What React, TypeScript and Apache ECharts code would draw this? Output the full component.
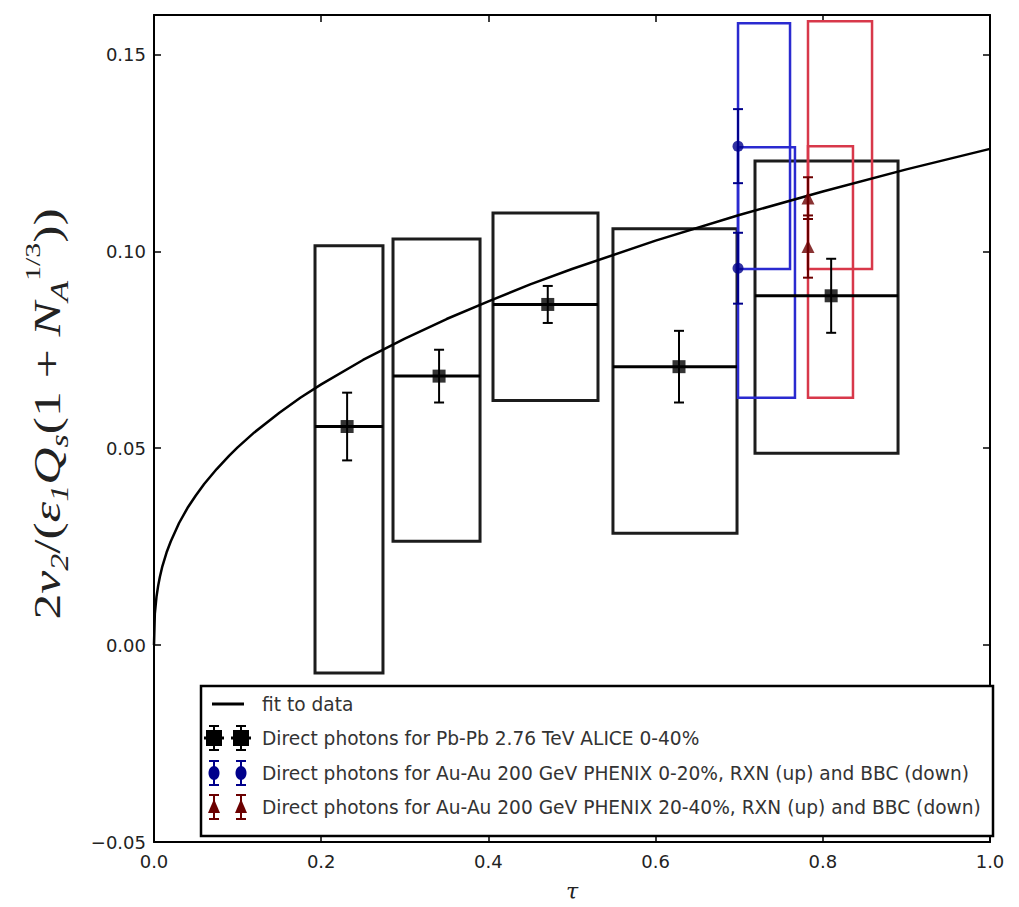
import React, { useEffect, useRef } from 'react';
import * as echarts from 'echarts';

// ---------- data ----------
const xMin = 0;
const xMax = 1.0;
const xStep = 0.2;
const yMin = -0.05;
const yMax = 0.16;
const yStep = 0.05;

// fit curve ("fit to data")
const fitX = [0, 0.001, 0.003, 0.005, 0.007, 0.01, 0.015, 0.02, 0.03, 0.04, 0.05, 0.06, 0.075, 0.09, 0.1, 0.12, 0.15, 0.175, 0.2, 0.25, 0.3, 0.35, 0.4, 0.45, 0.5, 0.6, 0.7, 0.8, 0.9, 1.0];
const fitY = [0, 0.0080, 0.0123, 0.0151, 0.0173, 0.0200, 0.0235, 0.0263, 0.0310, 0.0348, 0.0380, 0.0409, 0.0447, 0.0481, 0.0502, 0.0540, 0.0590, 0.0628, 0.0662, 0.0724, 0.0778, 0.0828, 0.0873, 0.0916, 0.0955, 0.1027, 0.1092, 0.1152, 0.1208, 0.1260];

// ALICE Pb-Pb 2.76 TeV 0-40%
const aliceX = [0.231, 0.341, 0.471, 0.628, 0.810];
const aliceY = [0.0555, 0.0683, 0.0865, 0.0707, 0.0887];
const aliceErr = [0.0086, 0.0067, 0.0047, 0.0091, 0.0094];
const aliceBoxX0 = [0.1926, 0.2859, 0.4055, 0.549, 0.7189];
const aliceBoxX1 = [0.2739, 0.390, 0.5311, 0.6974, 0.890];
const aliceBoxLo = [-0.0071, 0.0264, 0.0621, 0.0284, 0.0487];
const aliceBoxHi = [0.1014, 0.1031, 0.1097, 0.1057, 0.1229];

// PHENIX Au-Au 200 GeV 0-20% (RXN up, BBC down)
const ph1X = [0.6986, 0.6986];
const ph1Y = [0.1267, 0.0957];
const ph1Err = [0.0094, 0.0090];
const ph1BoxX1 = [0.7608, 0.7667];
const ph1BoxLo = [0.0955, 0.0628];
const ph1BoxHi = [0.1579, 0.1264];

// PHENIX Au-Au 200 GeV 20-40% (RXN up, BBC down)
const ph2X = [0.7823, 0.7823];
const ph2Y = [0.1135, 0.1012];
const ph2Err = [0.0053, 0.0079];
const ph2BoxX1 = [0.8589, 0.8361];
const ph2BoxLo = [0.0955, 0.0628];
const ph2BoxHi = [0.1584, 0.1267];

const legendLabels = [
  'fit to data',
  'Direct photons for Pb-Pb 2.76 TeV ALICE 0-40%',
  'Direct photons for Au-Au 200 GeV PHENIX 0-20%, RXN (up) and BBC (down)',
  'Direct photons for Au-Au 200 GeV PHENIX 20-40%, RXN (up) and BBC (down)',
];
const yLabelRich = '{n|2}{i|v}{s|2}{n|/(}{i|ε}{s|1}{i|Q}{s|s}{n|(1 + }{i|N}{s|A}{p|1/3}{n|))}';
const xLabel = 'τ';

// ---------- styling ----------
const W = 1019;
const H = 907;
const G_LEFT = 154;
const G_RIGHT = 990;
const G_TOP = 15;
const G_BOTTOM = 842;
const BLUE = '#00008b';
const BLUE_BOX = '#2a2ad0';
const RED = '#6b0000';
const RED_BOX = '#d8384a';
const TXT = '#222';

const boxSeries = (boxes: number[][], color: string, lw: number, z: number) => ({
  type: 'custom',
  silent: true,
  z,
  clip: true,
  encode: { x: [0, 1], y: [2, 3] },
  data: boxes,
  renderItem: (_p: any, api: any) => {
    const a = api.coord([api.value(0), api.value(3)]);
    const b = api.coord([api.value(1), api.value(2)]);
    return {
      type: 'rect',
      shape: { x: a[0], y: a[1], width: b[0] - a[0], height: b[1] - a[1] },
      style: { fill: 'none', stroke: color, lineWidth: lw },
    };
  },
});

const errSeries = (rows: number[][], color: string, lw: number, cap: number, withH: boolean, z: number) => ({
  type: 'custom',
  silent: true,
  z,
  encode: { x: 0, y: 1 },
  data: rows,
  renderItem: (_p: any, api: any) => {
    const x = api.value(0);
    const y = api.value(1);
    const e = api.value(2);
    const t = api.coord([x, y + e]);
    const b = api.coord([x, y - e]);
    const st = { stroke: color, lineWidth: lw };
    const children: any[] = [
      { type: 'line', shape: { x1: t[0], y1: t[1], x2: b[0], y2: b[1] }, style: st },
      { type: 'line', shape: { x1: t[0] - cap, y1: t[1], x2: t[0] + cap, y2: t[1] }, style: st },
      { type: 'line', shape: { x1: b[0] - cap, y1: b[1], x2: b[0] + cap, y2: b[1] }, style: st },
    ];
    if (withH) {
      const l = api.coord([api.value(3), y]);
      const r = api.coord([api.value(4), y]);
      children.push({ type: 'line', shape: { x1: l[0], y1: l[1], x2: r[0], y2: r[1] }, style: { stroke: color, lineWidth: 3 } });
    }
    return { type: 'group', children };
  },
});

const fmtY = (v: number) => {
  const r = Math.round(v * 100) / 100;
  if (Math.abs(r * 20 - Math.round(r * 20)) > 1e-6 || v > 0.155) return '';
  return r.toFixed(2).replace('-', '\u2212');
};

function buildOption() {
  const aliceBoxes = aliceX.map((_, i) => [aliceBoxX0[i], aliceBoxX1[i], aliceBoxLo[i], aliceBoxHi[i]]);
  const ph1Boxes = ph1X.map((x, i) => [x, ph1BoxX1[i], ph1BoxLo[i], ph1BoxHi[i]]);
  const ph2Boxes = ph2X.map((x, i) => [x, ph2BoxX1[i], ph2BoxLo[i], ph2BoxHi[i]]);
  const aliceErrRows = aliceX.map((x, i) => [x, aliceY[i], aliceErr[i], aliceBoxX0[i], aliceBoxX1[i]]);
  const ph1ErrRows = ph1X.map((x, i) => [x, ph1Y[i], ph1Err[i]]);
  const ph2ErrRows = ph2X.map((x, i) => [x, ph2Y[i], ph2Err[i]]);

  const axisCommonX = {
    type: 'value',
    min: xMin,
    max: xMax,
    interval: xStep,
    splitLine: { show: false },
    axisLine: { show: true, onZero: false, lineStyle: { color: '#000', width: 2 } },
    axisTick: { show: true, inside: true, length: 7, lineStyle: { color: '#000', width: 1.5 } },
  };
  const axisCommonY = {
    type: 'value',
    min: yMin,
    max: yMax,
    interval: yStep,
    splitLine: { show: false },
    axisLine: { show: true, onZero: false, lineStyle: { color: '#000', width: 2 } },
    axisTick: { show: true, inside: true, length: 7, lineStyle: { color: '#000', width: 1.5 } },
  };

  const lx1 = 214;
  const lx2 = 241;
  const rowY = [704, 738, 773, 807];
  const graphics: any[] = [
    { type: 'rect', shape: { x: 201, y: 686, width: 792, height: 150 }, style: { fill: '#fff', stroke: '#000', lineWidth: 2.5 }, z: 100 },
    { type: 'line', shape: { x1: 212, y1: rowY[0], x2: 244, y2: rowY[0] }, style: { stroke: '#000', lineWidth: 3 }, z: 101 },
  ];
  const errGlyph = (cx: number, cy: number, color: string) => [
    { type: 'line', shape: { x1: cx, y1: cy - 12, x2: cx, y2: cy + 12 }, style: { stroke: color, lineWidth: 2 }, z: 101 },
    { type: 'line', shape: { x1: cx - 5, y1: cy - 12, x2: cx + 5, y2: cy - 12 }, style: { stroke: color, lineWidth: 2 }, z: 101 },
    { type: 'line', shape: { x1: cx - 5, y1: cy + 12, x2: cx + 5, y2: cy + 12 }, style: { stroke: color, lineWidth: 2 }, z: 101 },
  ];
  [lx1, lx2].forEach((cx) => {
    graphics.push(...errGlyph(cx, rowY[1], '#000'));
    graphics.push({ type: 'rect', shape: { x: cx - 8, y: rowY[1] - 8, width: 16, height: 16 }, style: { fill: '#000' }, z: 102 });
    graphics.push({ type: 'line', shape: { x1: cx - 10, y1: rowY[1], x2: cx + 10, y2: rowY[1] }, style: { stroke: '#000', lineWidth: 3 }, z: 102 });
    graphics.push(...errGlyph(cx, rowY[2], BLUE));
    graphics.push({ type: 'ellipse', shape: { cx, cy: rowY[2], rx: 5.5, ry: 7 }, style: { fill: BLUE }, z: 102 });
    graphics.push(...errGlyph(cx, rowY[3], RED));
    graphics.push({ type: 'polygon', shape: { points: [[cx, rowY[3] - 8], [cx - 6, rowY[3] + 6], [cx + 6, rowY[3] + 6]] }, style: { fill: RED }, z: 102 });
  });
  legendLabels.forEach((t, i) => {
    graphics.push({
      type: 'text',
      x: 262,
      y: rowY[i],
      z: 103,
      style: { text: t, fill: '#333', font: '18.6px "DejaVu Sans"', textVerticalAlign: 'middle', verticalAlign: 'middle' },
    });
  });
  // y-axis title (rotated, slightly stretched along the text like the reference)
  graphics.push({
    type: 'text',
    x: 47,
    y: 414,
    rotation: Math.PI / 2,
    scaleX: 1.36,
    scaleY: 1,
    z: 103,
    style: {
      text: yLabelRich,
      align: 'center',
      verticalAlign: 'middle',
      fill: TXT,
      fontFamily: 'Liberation Serif',
      fontSize: 38,
      rich: {
        n: { fontFamily: 'Liberation Serif', fontSize: 38, lineHeight: 50, fill: TXT, color: TXT },
        i: { fontFamily: 'Liberation Serif', fontStyle: 'italic', fontSize: 38, lineHeight: 50, fill: TXT, color: TXT },
        s: { fontFamily: 'Liberation Serif', fontStyle: 'italic', fontSize: 25, lineHeight: 25, verticalAlign: 'bottom', fill: TXT, color: TXT },
        p: { fontFamily: 'Liberation Serif', fontSize: 22, lineHeight: 22, verticalAlign: 'top', fill: TXT, color: TXT },
      },
    },
  });

  return {
    animation: false,
    backgroundColor: '#fff',
    grid: { left: G_LEFT, right: W - G_RIGHT, top: G_TOP, bottom: H - G_BOTTOM, containLabel: false },
    xAxis: [
      {
        ...axisCommonX,
        position: 'bottom',
        name: xLabel,
        nameLocation: 'middle',
        nameGap: 38,
        nameTextStyle: { fontFamily: 'DejaVu Serif', fontStyle: 'italic', fontSize: 22, color: TXT },
        axisLabel: { show: true, margin: 10, color: TXT, fontFamily: 'DejaVu Sans', fontSize: 18, formatter: (v: number) => v.toFixed(1) },
      },
      { ...axisCommonX, position: 'top', axisLabel: { show: false } },
    ],
    yAxis: [
      {
        ...axisCommonY,
        position: 'left',
        axisLabel: { show: true, margin: 8, color: TXT, fontFamily: 'DejaVu Sans', fontSize: 18, formatter: fmtY },
      },
      { ...axisCommonY, position: 'right', axisLabel: { show: false } },
    ],
    graphic: graphics,
    series: [
      boxSeries(aliceBoxes, '#1c1c1c', 3, 2),
      boxSeries(ph1Boxes, BLUE_BOX, 2.5, 2),
      boxSeries(ph2Boxes, RED_BOX, 2.5, 2),
      {
        type: 'line',
        data: fitX.map((x, i) => [x, fitY[i]]),
        smooth: false,
        showSymbol: false,
        silent: true,
        lineStyle: { color: '#000', width: 2.5 },
        z: 3,
      },
      errSeries(aliceErrRows, '#000', 2, 5, true, 4),
      errSeries(ph1ErrRows, BLUE, 2, 5, false, 4),
      errSeries(ph2ErrRows, RED, 2, 5, false, 4),
      { type: 'scatter', data: aliceX.map((x, i) => [x, aliceY[i]]), symbol: 'rect', symbolSize: 13, itemStyle: { color: '#000' }, z: 5, silent: true },
      { type: 'scatter', data: ph1X.map((x, i) => [x, ph1Y[i]]), symbol: 'circle', symbolSize: 11, itemStyle: { color: BLUE }, z: 5, silent: true },
      { type: 'scatter', data: ph2X.map((x, i) => [x, ph2Y[i]]), symbol: 'triangle', symbolSize: 13, itemStyle: { color: RED }, z: 5, silent: true },
    ],
  };
}

export default function App() {
  const ref = useRef<HTMLDivElement>(null);
  useEffect(() => {
    if (!ref.current) return;
    const chart = echarts.init(ref.current, undefined, { renderer: 'svg' });
    chart.setOption(buildOption() as any);
    return () => chart.dispose();
  }, []);
  return <div ref={ref} style={{ position: 'absolute', left: 0, top: 0, width: W, height: H, background: '#fff' }} />;
}
